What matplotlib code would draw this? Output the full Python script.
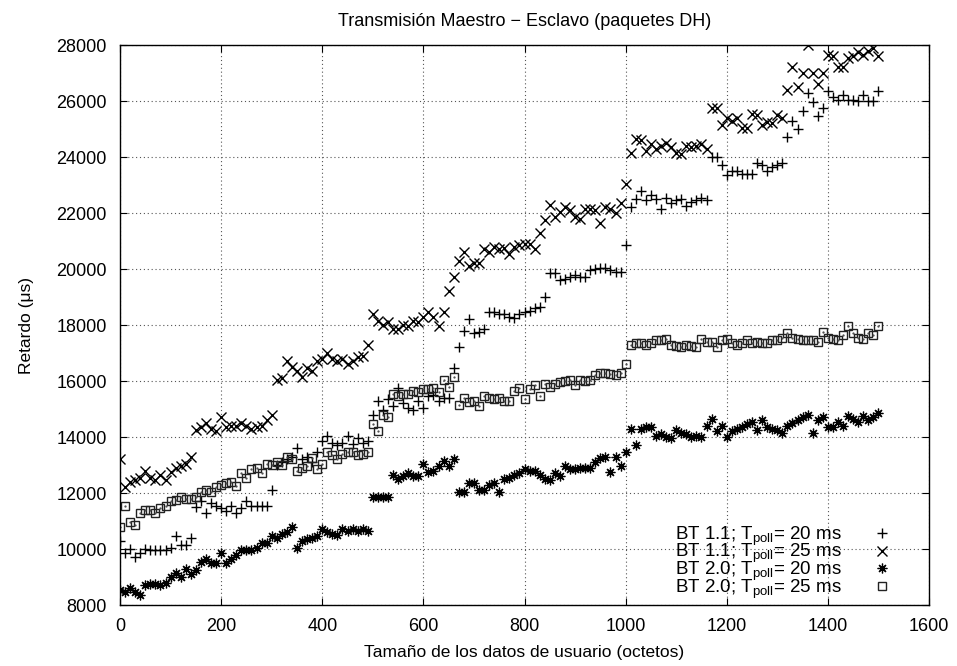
import matplotlib
matplotlib.use("Agg")
import matplotlib.pyplot as plt
import numpy as np

plt.rcParams['font.family'] = ['Liberation Sans', 'DejaVu Sans']
plt.rcParams['mathtext.fontset'] = 'custom'
plt.rcParams['mathtext.rm'] = 'Liberation Sans'
plt.rcParams['mathtext.it'] = 'Liberation Sans:italic'

# x positions: user data size (octets), step 10
x_start, x_stop, x_step = 0, 1500, 10

bt11_20 = [
    10300, 9850, 10000, 9700, 9850, 10000, 9950, 9950, 9950, 9950,
    10050, 10450, 10150, 10150, 10400, 11500, 11700, 11300, 11650, 11550,
    11450, 11350, 11550, 11300, 11450, 11700, 11550, 11550, 11550, 11550,
    12100, 13000, 13100, 13200, 13300, 13600, 13200, 13300, 13100, 13450,
    13850, 14050, 13800, 13700, 13800, 14050, 13750, 13950, 13800, 13850,
    14800, 15300, 14950, 15350, 15100, 15750, 15200, 15050, 14950, 15300,
    15050, 15450, 15500, 15300, 15400, 15400, 16450, 17200, 17800, 18200,
    17700, 17750, 17850, 18450, 18450, 18400, 18400, 18300, 18250, 18400,
    18450, 18500, 18600, 18650, 19000, 19850, 19850, 19600, 19650, 19700,
    19800, 19700, 19700, 19950, 20000, 20050, 20050, 19950, 19900, 19900,
    20850, 22200, 22500, 22800, 22450, 22650, 22500, 22150, 22550, 22350,
    22450, 22500, 22250, 22400, 22450, 22550, 22450, 24000, 24000, 23700,
    23350, 23500, 23500, 23400, 23400, 23400, 23800, 23700, 23500, 23650,
    23700, 23800, 24700, 25300, 25000, 25650, 26300, 25950, 25450, 25750,
    26350, 26150, 26050, 26200, 26050, 26050, 26000, 26200, 26000, 26000, 26350,
]

bt11_25 = [
    13200, 12200, 12400, 12450, 12550, 12800, 12550, 12450, 12650, 12450,
    12750, 12900, 12950, 13050, 13300, 14250, 14350, 14500, 14300, 14200,
    14700, 14350, 14400, 14400, 14500, 14400, 14300, 14350, 14400, 14600,
    14800, 16050, 16100, 16700, 16500, 16350, 16150, 16450, 16350, 16700,
    16800, 17000, 16800, 16700, 16800, 16600, 16700, 16850, 16900, 17300,
    18400, 18150, 18000, 18100, 17850, 17850, 18000, 17950, 18150, 18100,
    18300, 18450, 18300, 17950, 18450, 19200, 19700, 20300, 20600, 20100,
    20200, 20200, 20700, 20600, 20800, 20700, 20750, 20550, 20800, 20850,
    20900, 20900, 20700, 21300, 21750, 22300, 21850, 22050, 22200, 22100,
    21850, 21800, 22150, 22150, 22100, 21650, 22200, 22150, 22000, 22350,
    23030, 24150, 24650, 24600, 24200, 24450, 24300, 24400, 24500, 24350,
    24150, 24100, 24400, 24350, 24400, 24450, 24300, 25750, 25750, 25150,
    25400, 25300, 25400, 25050, 25050, 25550, 25500, 25150, 25250, 25200,
    25500, 25400, 26400, 27200, 26500, 27000, 28000, 27000, 26600, 27000,
    27650, 27600, 27200, 27200, 27550, 27600, 27750, 27650, 27800, 27900, 27600,
]

bt20_20 = [
    8550, 8450, 8600, 8450, 8350, 8700, 8750, 8750, 8700, 8800,
    9000, 9150, 9000, 9300, 9100, 9250, 9550, 9650, 9500, 9500,
    9850, 9500, 9650, 9800, 9950, 9950, 9950, 10050, 10200, 10200,
    10450, 10400, 10550, 10600, 10800, 10050, 10300, 10350, 10400, 10450,
    10700, 10600, 10550, 10500, 10700, 10650, 10700, 10650, 10700, 10650,
    11850, 11850, 11850, 11850, 12650, 12500, 12600, 12700, 12600, 12600,
    13050, 12750, 12800, 12950, 13150, 12950, 13200, 12050, 12050, 12350,
    12350, 12100, 12100, 12300, 12350, 12050, 12500, 12550, 12650, 12700,
    12850, 12800, 12800, 12650, 12500, 12450, 12700, 12600, 12950, 12850,
    12850, 12900, 12900, 12900, 13100, 13250, 13300, 12750, 13300, 12950,
    13450, 14300, 13700, 14300, 14350, 14350, 14050, 14100, 14000, 13950,
    14250, 14150, 14100, 14000, 14050, 14000, 14400, 14650, 14200, 14400,
    14000, 14200, 14300, 14350, 14450, 14550, 14250, 14600, 14350, 14300,
    14250, 14150, 14400, 14500, 14600, 14700, 14800, 14150, 14600, 14700,
    14350, 14350, 14550, 14400, 14750, 14650, 14550, 14750, 14600, 14700, 14850,
]

bt20_25 = [
    10800, 11550, 10950, 10850, 11300, 11400, 11400, 11300, 11450, 11550,
    11700, 11750, 11850, 11800, 11800, 11850, 12050, 12100, 12050, 12200,
    12300, 12350, 12400, 12250, 12700, 12550, 12850, 12900, 12700, 13050,
    13000, 13100, 13000, 13300, 13200, 12800, 12900, 12950, 13250, 12850,
    13050, 13450, 13350, 13200, 13400, 13450, 13450, 13350, 13400, 13450,
    14450, 14200, 14800, 14700, 15550, 15450, 15550, 15550, 15650, 15600,
    15700, 15700, 15750, 15600, 16050, 15800, 16150, 15150, 15400, 15250,
    15300, 15100, 15450, 15400, 15350, 15400, 15300, 15300, 15650, 15750,
    15350, 15700, 15850, 15450, 15900, 15800, 15900, 15950, 16000, 16050,
    15850, 16050, 16000, 16050, 16200, 16300, 16300, 16250, 16200, 16300,
    16600, 17300, 17350, 17350, 17300, 17350, 17450, 17450, 17500, 17300,
    17250, 17200, 17300, 17250, 17200, 17500, 17400, 17400, 17200, 17450,
    17500, 17350, 17300, 17350, 17450, 17350, 17400, 17350, 17350, 17450,
    17450, 17550, 17700, 17550, 17500, 17450, 17450, 17450, 17400, 17750,
    17550, 17500, 17450, 17650, 17950, 17700, 17550, 17500, 17700, 17650, 17950,
]

labels = [
    r'BT 1.1; T$_{\mathrm{poll}}$= 20 ms',
    r'BT 1.1; T$_{\mathrm{poll}}$= 25 ms',
    r'BT 2.0; T$_{\mathrm{poll}}$= 20 ms',
    r'BT 2.0; T$_{\mathrm{poll}}$= 25 ms',
]
x_ticks = [0, 200, 400, 600, 800, 1000, 1200, 1400, 1600]
y_ticks = [8000, 10000, 12000, 14000, 16000, 18000, 20000, 22000, 24000, 26000, 28000]

FS = 12.5
x = np.arange(x_start, x_stop + 1, x_step)

fig = plt.figure(figsize=(9.57, 6.66), dpi=100)
ax = fig.add_axes([120/957, 61/666, 809/957, 560/666])

ax.plot(x, bt11_20, linestyle='none', marker='+', ms=7, mew=1.0, color='black', label=labels[0])
ax.plot(x, bt11_25, linestyle='none', marker='x', ms=6.5, mew=1.0, color='black', label=labels[1])
ax.plot(x, bt20_20, linestyle='none', marker=(8, 2, 0), ms=7, mew=0.9, color='black', label=labels[2])
ax.plot(x, bt20_25, linestyle='none', marker='s', ms=6, mew=1.0, mfc='none', mec='#222222')
ax.plot(x, bt20_25, linestyle='none', marker='.', ms=1.2, color='#444444')
ax.plot([], [], linestyle='none', marker='s', ms=6, mew=1.0, mfc='none', mec='#222222', label=labels[3])

ax.set_xlim(0, 1600)
ax.set_ylim(8000, 28000)
ax.set_xticks(x_ticks)
ax.set_yticks(y_ticks)
ax.tick_params(direction='in', top=True, right=True, length=5, width=0.8, labelsize=13, pad=9.5)
ax.grid(True, linestyle=(0, (1, 2.5)), color='#555555', linewidth=0.8)
for s in ax.spines.values():
    s.set_linewidth(1.0)

ax.set_title('Transmisión Maestro − Esclavo (paquetes DH)', fontsize=13, pad=14)
ax.set_xlabel('Tamaño de los datos de usuario (octetos)', fontsize=FS, labelpad=7)
ax.set_ylabel('Retardo (μs)', fontsize=FS, labelpad=16)

ax.legend(loc='lower right', bbox_to_anchor=(0.9535, 0.008), frameon=False, markerfirst=False,
          fontsize=13.5, handlelength=1.0, handletextpad=1.63, labelspacing=-0.3,
          borderpad=0, borderaxespad=0)

fig.savefig('out.png', dpi=100)
